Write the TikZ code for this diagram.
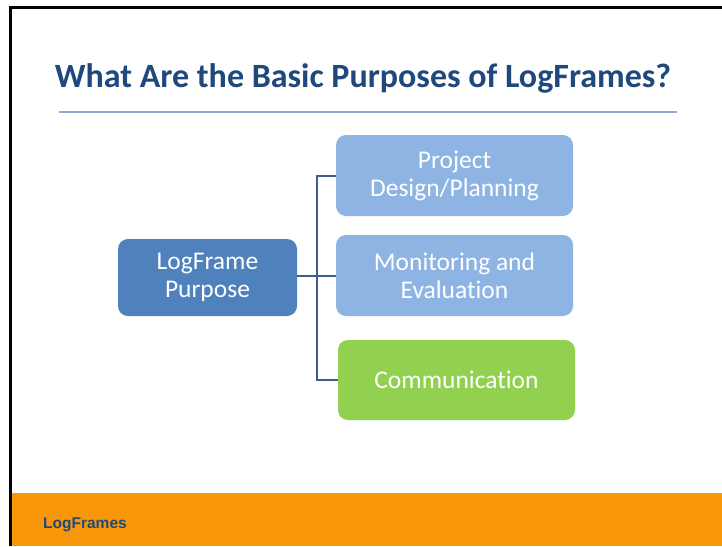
\documentclass[tikz,border=0pt]{standalone}
\usepackage{fontspec}
\setmainfont{Carlito}[Ligatures=NoCommon]
\newfontfamily\footfont{Liberation Sans}
\definecolor{titleblue}{RGB}{31,73,125}
\definecolor{rulblue}{RGB}{140,170,210}
\definecolor{mainblue}{RGB}{79,129,189}
\definecolor{lightblue}{RGB}{142,180,227}
\definecolor{greenbox}{RGB}{146,208,80}
\definecolor{connblue}{RGB}{62,95,140}
\definecolor{orangebar}{RGB}{247,151,9}
\begin{document}
\begin{tikzpicture}[x=1pt,y=-1pt,
  box/.style={rounded corners=10pt, text=white, align=center, inner sep=0pt,
    font=\fontsize{25.5}{28}\selectfont},
  conn/.style={draw=connblue, line width=2pt}]
\useasboundingbox (0,0) rectangle (722,546);
\fill[white] (0,0) rectangle (722,546);
% slide border
\draw[line width=3pt, black] (10,546) -- (10,7) -- (722,7);
% footer bar
\fill[orangebar] (11.5,493) rectangle (722,546);
\node[anchor=base west, inner sep=0pt, text=titleblue, font=\footfont\bfseries\fontsize{15.5}{18}\selectfont] (foot) at (43,528) {LogFrames};
% title
\node[anchor=base, inner sep=0pt, text=titleblue, font=\bfseries\fontsize{34}{40}\selectfont] (title) at (363,87.5) {What Are the Basic Purposes of LogFrames?};
\draw[rulblue, line width=1.5pt] (59,112) coordinate (rl) -- (677,112) coordinate (rr);
% boxes
\node[box, fill=mainblue, minimum width=179pt, minimum height=77pt] (lf) at (207.5,277.5) {LogFrame\\Purpose};
\node[box, fill=lightblue, minimum width=237pt, minimum height=81pt] (pd) at (454.5,175.5) {Project\\Design/Planning};
\node[box, fill=lightblue, minimum width=237pt, minimum height=81pt] (me) at (454.5,275.5) {Monitoring and\\Evaluation};
\node[box, fill=greenbox, minimum width=237pt, minimum height=80pt] (cm) at (456.5,380) {Communication};
% connectors
\coordinate (bus) at (317,276);
\draw[conn] (lf.east |- bus) -- (bus);
\draw[conn] (pd.west) -| (bus) |- (cm.west);
\draw[conn] (bus) -- (me.west |- bus);
\end{tikzpicture}
\end{document}
